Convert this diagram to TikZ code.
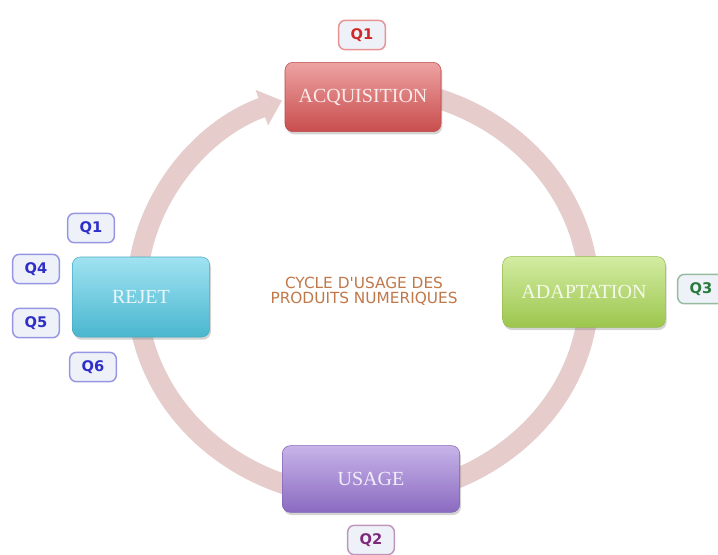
\documentclass[tikz,border=0pt]{standalone}
\usepackage{fontspec}
\newfontfamily\boxfont{Liberation Serif}
\newfontfamily\qfont{DejaVu Sans}
\usetikzlibrary{arrows.meta,shadows}

\definecolor{ringpink}{HTML}{E7CCCC}
\definecolor{acqred}{HTML}{DF5656}
\definecolor{rejcyan}{HTML}{52CBE6}
\definecolor{adagreen}{HTML}{AEDC56}
\definecolor{usapurple}{HTML}{9A76D6}
\definecolor{qred}{HTML}{D02828}
\definecolor{qblue}{HTML}{2E2EC8}
\definecolor{qgreen}{HTML}{2A7A3E}
\definecolor{qpurple}{HTML}{7E2A7A}
\definecolor{qfill}{HTML}{EEF1F7}
\definecolor{cycletext}{HTML}{C0784A}

\tikzset{every picture/.style={line width=0.75pt}}
\tikzset{
  ringline/.style={line width=15pt, draw=ringpink, -{Triangle[length=16pt,width=27pt]}},
  stepbox/.style={rounded corners=6pt, top color=#1!55!white, middle color=#1!92!white, bottom color=#1!90!black, draw=#1!85!black, line width=0.4pt,
    text=white, text opacity=0.85, font=\boxfont\fontsize{15}{18}\selectfont,
    drop shadow={opacity=0.35, shadow xshift=1pt, shadow yshift=-2pt}},
  qbox/.style={rounded corners=5pt, draw=#1!50!white, line width=1.1pt, fill=qfill, text=#1,
    font=\qfont\bfseries\fontsize{11}{13}\selectfont, minimum width=35pt, minimum height=22pt, inner sep=0pt},
}

\begin{document}
\begin{tikzpicture}[x=0.75pt,y=0.75pt,yscale=-1]
	\useasboundingbox (0,0) rectangle (718,554);
	\coordinate (ringc) at (363,292);

	%Arc: ring shadow
	\draw [ringline, draw=black, opacity=0.07, shift={(1.5,3)}] ([shift={(-80:226 and 205)}]ringc) arc [start angle=-80, end angle=249, x radius=226, y radius=205];
	%Arc: cycle ring
	\draw [ringline] ([shift={(-80:226 and 205)}]ringc) arc [start angle=-80, end angle=249, x radius=226, y radius=205];

	% Box nodes
	\node [stepbox=acqred, minimum width=117pt, minimum height=52pt] (acq) at (363,97) {ACQUISITION};
	\node [stepbox=adagreen, minimum width=122pt, minimum height=53pt] (ada) at (584,292) {ADAPTATION};
	\node [stepbox=usapurple, minimum width=133pt, minimum height=50pt] (usa) at (371,479) {USAGE};
	\node [stepbox=rejcyan, minimum width=103pt, minimum height=60pt] (rej) at (141,297) {REJET};

	% Text Node
	\node [text=cycletext, font=\qfont\fontsize{11.5}{11.5}\selectfont, align=center] (cycle) at (364,291) {CYCLE D'USAGE DES\\PRODUITS NUMERIQUES};

	% Question nodes
	\node [qbox=qred] (qa) at (362,35) {Q1};
	\node [qbox=qblue] (qb) at (91,228) {Q1};
	\node [qbox=qblue] (qc) at (36,269) {Q4};
	\node [qbox=qblue] (qd) at (36,323) {Q5};
	\node [qbox=qblue] (qe) at (93,367) {Q6};
	\node [qbox=qgreen] (qf) at (701,289) {Q3};
	\node [qbox=qpurple] (qg) at (371,540) {Q2};

\end{tikzpicture}
\end{document}
